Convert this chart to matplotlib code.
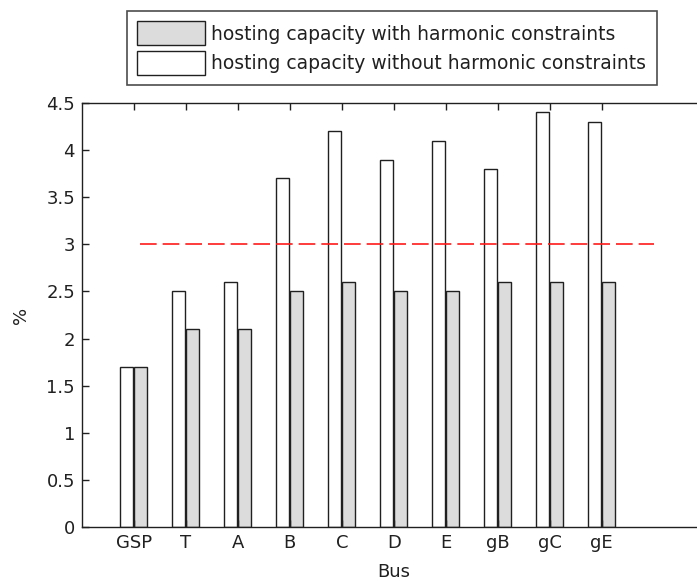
import matplotlib
matplotlib.use('Agg')
import matplotlib.pyplot as plt
import numpy as np

# --- data ---
buses = ['GSP', 'T', 'A', 'B', 'C', 'D', 'E', 'gB', 'gC', 'gE']
with_harm = [1.7, 2.1, 2.1, 2.5, 2.6, 2.5, 2.5, 2.6, 2.6, 2.6]
without_harm = [1.7, 2.5, 2.6, 3.7, 4.2, 3.9, 4.1, 3.8, 4.4, 4.3]
limit_level = 3.0
limit_span = [1.12, 11.0]

plt.rcParams['font.family'] = ['DejaVu Sans']

fig = plt.figure(figsize=(6.97, 5.82), dpi=100)
ax = fig.add_axes([0.1176, 0.0945, 0.8947, 0.7285])

x = np.arange(1, len(buses) + 1)

# white bar on the left of the tick, grey one on the right
b_without = ax.bar(x - 0.26, without_harm, width=0.25, align='edge',
                   color='white', edgecolor='#202020', linewidth=1.0)
b_with = ax.bar(x, with_harm, width=0.25, align='edge',
                color='#dcdcdc', edgecolor='#202020', linewidth=1.0)

ax.plot(limit_span, [limit_level, limit_level], color='#ff1a1a', lw=1.2,
        linestyle=(0, (10, 3.6)))

ax.set_xlim(0, 12)
ax.set_ylim(0, 4.5)
ax.set_xticks(x)
ax.set_xticklabels(buses)
ax.set_yticks(np.arange(0, 4.6, 0.5))
ax.set_yticklabels(['0', '0.5', '1', '1.5', '2', '2.5', '3', '3.5', '4', '4.5'])
ax.tick_params(direction='in', top=True, right=True, length=5, width=1,
               labelsize=13, pad=5, colors='#202020')
for s in ax.spines.values():
    s.set_linewidth(1.0)
    s.set_color('#202020')

ax.set_xlabel('Bus', fontsize=13, labelpad=8, color='#202020')
ax.set_ylabel('%', fontsize=13, labelpad=12, color='#202020')

leg = fig.legend([b_with, b_without],
                 ['hosting capacity with harmonic constraints',
                  'hosting capacity without harmonic constraints'],
                 loc='upper left', bbox_to_anchor=(127 / 697, 1 - 11 / 582),
                 fontsize=13.5, frameon=True, fancybox=False,
                 handlelength=3.6, handleheight=1.6, handletextpad=0.35,
                 borderpad=0.55, labelspacing=0.3, borderaxespad=0)
leg.get_frame().set_edgecolor('#202020')
leg.get_frame().set_linewidth(1.2)
for t in leg.get_texts():
    t.set_color('#202020')

fig.savefig('out.png', dpi=100)
